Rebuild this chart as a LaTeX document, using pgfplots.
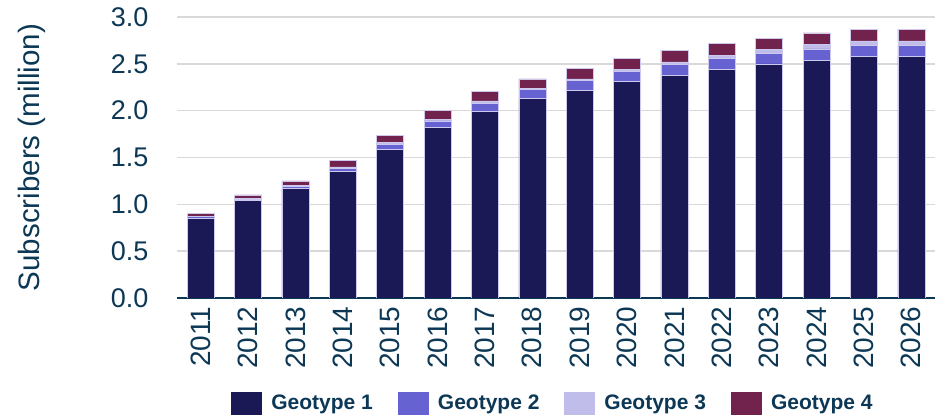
\documentclass[border=0pt]{standalone}
\usepackage{pgfplots}
\pgfplotsset{compat=1.18}
\usepackage{fontspec}
\setmainfont{Liberation Sans}
\definecolor{gone}{RGB}{27,24,86}
\definecolor{gtwo}{RGB}{103,98,210}
\definecolor{gthree}{RGB}{192,189,235}
\definecolor{gfour}{RGB}{114,35,77}
\definecolor{txt}{RGB}{12,56,86}
\definecolor{gridc}{RGB}{217,217,217}
\definecolor{edge}{RGB}{205,200,238}
\begin{document}
\begin{tikzpicture}
\path[use as bounding box] (-177pt,-119pt) rectangle (770pt,298pt);
\begin{axis}[
  at={(0pt,0pt)}, anchor=south west,
  scale only axis, width=758pt, height=281pt,
  ybar stacked, bar width=0.57,
  xmin=-0.5, xmax=15.5, ymin=0, ymax=3.0,
  xtick={0,...,15},
  xticklabels={2011,2012,2013,2014,2015,2016,2017,2018,2019,2020,2021,2022,2023,2024,2025,2026},
  ytick={0,0.5,...,3.0},
  yticklabel style={/pgf/number format/fixed, /pgf/number format/fixed zerofill, /pgf/number format/precision=1, /pgf/number format/assume math mode=true,
    font=\fontsize{27}{30}\selectfont, text=txt, xshift=-25pt},
  xticklabel style={rotate=90, anchor=east, font=\fontsize{28}{30}\selectfont, text=txt, xshift=-5pt},
  major tick length=0pt,
  xtick pos=bottom, ytick pos=left,
  axis lines*=left,
  x axis line style={draw=txt, line width=1.6pt, -},
  y axis line style={draw=none},
  ymajorgrids, grid style={draw=gridc, line width=1.5pt},
  ylabel={Subscribers (million)},
  ylabel style={font=\fontsize{29.5}{32}\selectfont, text=txt, at={(axis description cs:-0.191,0.5)}, anchor=center, rotate=0},
  every axis plot/.append style={draw=edge, line width=0.6pt},
  legend columns=4,
  legend style={draw=none, fill=none, at={(0.496,-0.374)}, anchor=center,
    font=\fontsize{21}{24}\selectfont\bfseries, text=txt,
    /tikz/every odd column/.append style={column sep=7pt},
    /tikz/every even column/.append style={column sep=23pt}},
  legend image code/.code={\fill[#1, draw=none] (0pt,-11.5pt) rectangle (31pt,11.5pt);},
]
\addplot[fill=gone] table[x=i, y=a] {
i a
0 0.85
1 1.04
2 1.17
3 1.35
4 1.59
5 1.82
6 1.99
7 2.13
8 2.22
9 2.31
10 2.38
11 2.44
12 2.50
13 2.54
14 2.58
15 2.58
};
\addplot[fill=gtwo] table[x=i, y=b] {
i b
0 0.02
1 0.015
2 0.02
3 0.03
4 0.05
5 0.07
6 0.09
7 0.095
8 0.10
9 0.105
10 0.11
11 0.115
12 0.115
13 0.12
14 0.12
15 0.12
};
\addplot[fill=gthree] table[x=i, y=c] {
i c
0 0.003
1 0.005
2 0.01
3 0.02
4 0.02
5 0.02
6 0.025
7 0.01
8 0.02
9 0.025
10 0.03
11 0.035
12 0.035
13 0.045
14 0.045
15 0.045
};
\addplot[fill=gfour] table[x=i, y=d] {
i d
0 0.03
1 0.04
2 0.05
3 0.07
4 0.08
5 0.09
6 0.10
7 0.105
8 0.115
9 0.12
10 0.125
11 0.125
12 0.125
13 0.125
14 0.125
15 0.125
};
\legend{Geotype 1,Geotype 2,Geotype 3,Geotype 4}
\end{axis}
\end{tikzpicture}
\end{document}
